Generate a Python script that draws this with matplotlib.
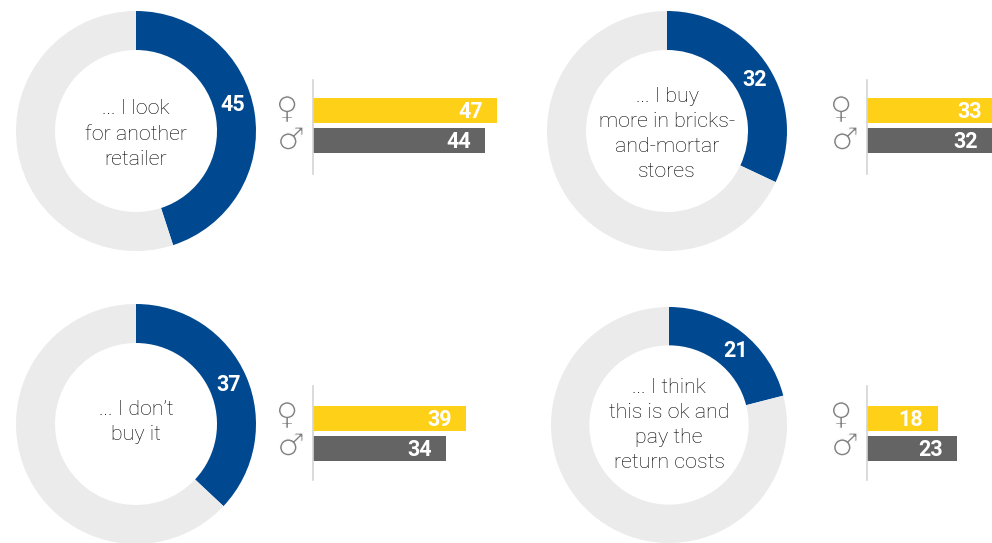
import matplotlib
matplotlib.use("Agg")
import matplotlib.pyplot as plt
import matplotlib.patheffects as pe
import numpy as np

W, H = 992, 543

# share of respondents per answer
labels = ["... I look\nfor another\nretailer",
          "... I buy\nmore in bricks-\nand-mortar\nstores",
          "... I don\u2019t\nbuy it",
          "... I think\nthis is ok and\npay the\nreturn costs"]
totals = [45, 32, 37, 21]
women = [47, 33, 39, 18]
men = [44, 32, 34, 23]

# donut centre x, centre y, radius, label angle and radius, text centre y (pixels)
donut_cx = [136, 667, 136, 669]
donut_cy = [131, 131, 424, 425]
donut_r = [120, 120, 120, 118]
label_angle = [75, 60, 67, 42]
label_r = [100, 101, 101, 99]
text_y = [134, 134, 422, 425]
# bar axis x, axis top, first bar top
bar_x = [313, 867, 313, 867]
axis_y = [80, 80, 386, 386]
bar_top = [98, 98, 406, 406]

BLUE = "#004990"
RING = "#ebebeb"
YELLOW = "#ffd018"
DARK = "#646464"
SYMBOL = "#808080"
AXIS = "#d4d4d4"
PX_PER_UNIT = 3.92
ROW = 30


def px_axes(fig, x, y, w, h):
    # axes from pixel box, y measured from the top
    return fig.add_axes([x / W, 1 - (y + h) / H, w / W, h / H])


fig = plt.figure(figsize=(W / 100, H / 100), dpi=100)
# glyphs from DejaVu are heavy, so eat into them with a white stroke
thin = [pe.Normal(), pe.Stroke(linewidth=0.9, foreground="white")]

for i in range(4):
    r = donut_r[i]
    ax = px_axes(fig, donut_cx[i] - r, donut_cy[i] - r, 2 * r, 2 * r)
    ax.pie([totals[i], 100 - totals[i]], colors=[BLUE, RING], startangle=90,
           counterclock=False, radius=1, wedgeprops={"width": 0.325})
    ax.set_xlim(-1, 1)
    ax.set_ylim(-1, 1)
    ax.text(0, (donut_cy[i] - text_y[i]) / r, labels[i], ha="center", va="center",
            fontsize=15.4, family="Roboto", weight="light", color="black",
            linespacing=1.42)
    a = np.deg2rad(label_angle[i])
    lr = label_r[i] / r
    ax.text(lr * np.sin(a), lr * np.cos(a), str(totals[i]), ha="center",
            va="center", fontsize=15.5, family="Roboto", weight="bold", color="white")

    # bars for women and men; axis runs past the figure edge on the right column
    bx = px_axes(fig, bar_x[i], axis_y[i], 50 * PX_PER_UNIT, 94)
    bx.barh([0, 1], [women[i], men[i]], height=25 / ROW, color=[YELLOW, DARK])
    bx.set_xlim(0, 50)
    y0 = (axis_y[i] - (bar_top[i] + 12.5)) / ROW
    bx.set_ylim(y0 + 94 / ROW, y0)
    bx.set_xticks([])
    bx.set_yticks([])
    for s in ["top", "right", "bottom"]:
        bx.spines[s].set_visible(False)
    bx.spines["left"].set_color(AXIS)
    bx.spines["left"].set_linewidth(1.2)
    for row, val in enumerate([women[i], men[i]]):
        bx.text(val - 3.6, row + 0.04, str(val), ha="right", va="center", fontsize=15.5,
                family="Roboto", weight="bold", color="white")
    bx.text(-6.6, y0 + 30 / ROW, "\u2640", ha="center", va="center", fontsize=22.5,
            family="DejaVu Sans", color=SYMBOL, clip_on=False, path_effects=thin)
    bx.text(-5.6, y0 + 61 / ROW, "\u2642", ha="center", va="center", fontsize=22.5,
            family="DejaVu Sans", color=SYMBOL, clip_on=False, path_effects=thin)

fig.savefig("out.png", dpi=100)
